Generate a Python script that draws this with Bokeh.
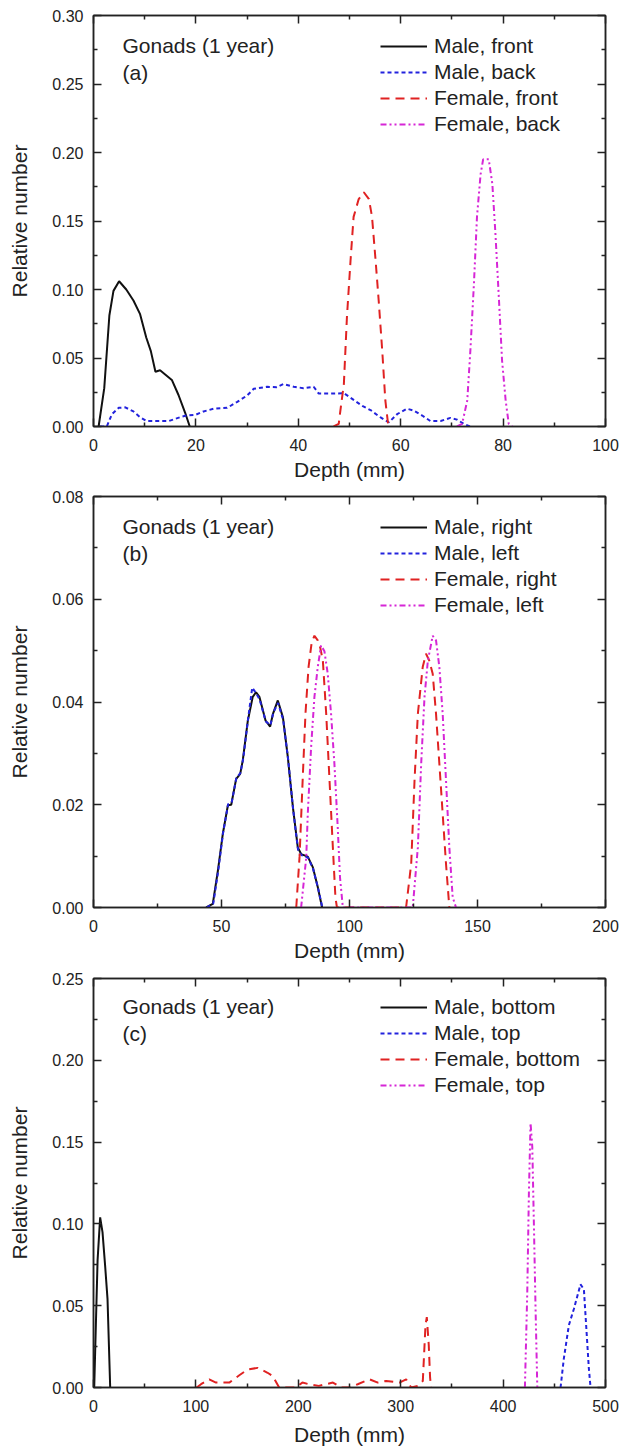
from bokeh.plotting import figure
from bokeh.layouts import column
from bokeh.models import (LinearAxis, Legend, LegendItem, Label, Range1d,
                          FixedTicker, PrintfTickFormatter, CustomLabelingPolicy)
from bokeh.embed import file_html
from bokeh.resources import INLINE

# ---------------- Panel (a): front / back ----------------
a_male_front_x = [1.0, 2.1, 3.1, 3.9, 5.0, 6.4, 7.8, 9.1, 10.3, 11.2, 12.1, 13.0, 14.0, 15.3, 16.6, 17.9, 18.8]
a_male_front_y = [0.0, 0.028, 0.081, 0.099, 0.106, 0.100, 0.092, 0.082, 0.065, 0.055, 0.040, 0.041, 0.038, 0.034, 0.023, 0.010, 0.0]
a_male_back_x = [1.3, 2.6, 3.6, 4.9, 6.2, 7.8, 9.1, 10.4, 12.4, 14.7, 16.0, 17.3, 18.2, 19.9, 21.5, 23.5, 26.1, 28.0, 30.0, 31.3,
                 33.9, 35.8, 37.1, 39.1, 41.0, 43.0, 44.0, 46.3, 48.9, 50.2, 52.5, 54.1, 56.0, 57.7, 59.3, 61.2, 62.5, 64.2, 65.8, 67.8,
                 69.7, 71.0, 72.3, 73.6]
a_male_back_y = [0.0, 0.0, 0.009, 0.0136, 0.014, 0.011, 0.0068, 0.004, 0.004, 0.004, 0.0056, 0.0073, 0.008, 0.0085, 0.011, 0.013, 0.0136, 0.0178, 0.0226, 0.0275,
                 0.029, 0.0287, 0.031, 0.029, 0.028, 0.029, 0.024, 0.024, 0.0243, 0.021, 0.015, 0.012, 0.0068, 0.003, 0.009, 0.013, 0.0117, 0.008, 0.004, 0.004,
                 0.0063, 0.005, 0.002, 0.0]
a_female_front_x = [46.9, 47.9, 48.3, 48.9, 49.5, 50.2, 50.8, 51.8, 52.8, 53.8, 54.4, 55.1, 55.7, 56.4, 57.0, 57.5, 58.0]
a_female_front_y = [0.0, 0.002, 0.014, 0.031, 0.080, 0.121, 0.153, 0.166, 0.171, 0.166, 0.153, 0.121, 0.092, 0.055, 0.019, 0.003, 0.0]
a_female_back_x = [71.0, 72.0, 73.0, 73.6, 74.3, 74.9, 75.6, 76.1, 77.2, 77.9, 78.5, 79.2, 79.8, 80.5, 81.1, 81.8]
a_female_back_y = [0.0, 0.002, 0.019, 0.055, 0.104, 0.153, 0.184, 0.195, 0.195, 0.177, 0.141, 0.092, 0.048, 0.019, 0.002, 0.0]
a_labels = ["Male, front", "Male, back", "Female, front", "Female, back"]
a_xticks = [0, 20, 40, 60, 80, 100]
a_xminor = [10, 30, 50, 70, 90]
a_yticks = [0.0, 0.05, 0.10, 0.15, 0.20, 0.25, 0.30]
a_yminor = [0.025, 0.075, 0.125, 0.175, 0.225, 0.275]

# ---------------- Panel (b): right / left ----------------
b_male_right_x = [44.0, 46.6, 48.6, 50.5, 52.5, 53.8, 55.7, 57.3, 58.3, 60.3, 62.2, 63.5, 64.8, 67.2, 69.0, 70.1, 72.0, 74.0, 75.9, 77.9,
                  79.8, 81.1, 83.7, 85.7, 87.6, 89.3]
b_male_right_y = [0.0, 0.0007, 0.0072, 0.0143, 0.0199, 0.020, 0.025, 0.026, 0.0286, 0.0364, 0.041, 0.0419, 0.041, 0.0364, 0.0352, 0.0377, 0.0403, 0.037, 0.0293, 0.0195,
                  0.0117, 0.0104, 0.0099, 0.0078, 0.004, 0.0]
b_male_left_x = [44.2, 46.8, 48.8, 50.6, 52.6, 54.0, 55.8, 57.4, 58.5, 60.4, 62.0, 63.4, 64.9, 67.3, 69.1, 70.3, 72.1, 74.1, 76.0, 78.0,
                 79.9, 81.2, 83.8, 85.8, 87.7, 89.4]
b_male_left_y = [0.0, 0.0008, 0.0074, 0.0145, 0.0201, 0.0205, 0.0252, 0.0262, 0.029, 0.0368, 0.0428, 0.0418, 0.0405, 0.0362, 0.0355, 0.038, 0.0398, 0.0365, 0.029, 0.019,
                 0.0112, 0.0102, 0.0097, 0.0075, 0.0038, 0.0]
b_female_right_x = [79.2, 80.5, 81.8, 82.8, 84.0, 85.2, 86.3, 87.6, 88.6, 89.6, 90.9, 92.2, 93.5, 94.5, 95.1,
                    122.1, 124.1, 125.4, 126.7, 128.6, 129.9, 131.2, 132.5, 133.8, 135.1, 136.4, 137.7, 139.0]
b_female_right_y = [0.0, 0.0100, 0.026, 0.0377, 0.0468, 0.0515, 0.0529, 0.052, 0.0505, 0.048, 0.0377, 0.0247, 0.0117, 0.002, 0.0,
                    0.0, 0.0085, 0.0247, 0.0377, 0.0468, 0.0494, 0.048, 0.0455, 0.0377, 0.028, 0.0182, 0.0085, 0.0]
b_female_left_x = [81.1, 83.1, 83.7, 85.0, 86.3, 87.6, 88.9, 90.2, 91.5, 92.8, 94.1, 95.4, 96.3, 97.4,
                   124.7, 126.7, 128.0, 129.3, 130.6, 132.5, 133.8, 135.1, 136.4, 137.7, 139.0, 140.3, 141.6]
b_female_left_y = [0.0, 0.0097, 0.0182, 0.0312, 0.041, 0.0468, 0.051, 0.0499, 0.0455, 0.0377, 0.028, 0.0156, 0.0058, 0.0,
                   0.0, 0.0117, 0.028, 0.041, 0.048, 0.0529, 0.052, 0.0468, 0.0377, 0.0247, 0.0117, 0.002, 0.0]
b_labels = ["Male, right", "Male, left", "Female, right", "Female, left"]
b_xticks = [0, 50, 100, 150, 200]
b_xminor = [25, 75, 125, 175]
b_yticks = [0.0, 0.02, 0.04, 0.06, 0.08]
b_yminor = [0.01, 0.03, 0.05, 0.07]

# ---------------- Panel (c): bottom / top ----------------
c_male_bottom_x = [0.7, 2.3, 4.0, 6.5, 8.8, 11.4, 13.7, 16.3]
c_male_bottom_y = [0.0, 0.038, 0.078, 0.104, 0.095, 0.074, 0.054, 0.0]
c_male_top_x = [456.1, 459.3, 464.2, 469.1, 475.6, 478.9, 481.1, 483.7, 485.4]
c_male_top_y = [0.0, 0.0176, 0.038, 0.048, 0.063, 0.060, 0.038, 0.012, 0.0]
c_female_bottom_x = [100.7, 105.0, 113.0, 119.6, 132.6, 142.4, 150.5, 160.3, 170.0, 175.0, 181.3, 197.5, 204.0, 210.5, 220.0, 233.8,
                     242.0, 250.0, 258.0, 269.5, 277.6, 285.8, 298.8, 305.3, 310.2, 316.7, 321.6, 324.2, 325.5, 327.4, 328.7, 329.7]
c_female_bottom_y = [0.0, 0.002, 0.005, 0.003, 0.003, 0.0075, 0.011, 0.012, 0.009, 0.007, 0.0, 0.0, 0.003, 0.002, 0.001, 0.003,
                     0.0, 0.0, 0.002, 0.005, 0.003, 0.004, 0.003, 0.005, 0.0, 0.001, 0.004, 0.038, 0.043, 0.026, 0.006, 0.0]
c_female_top_x = [421.3, 423.6, 425.2, 426.8, 428.5, 430.1, 431.7, 433.4]
c_female_top_y = [0.0, 0.058, 0.119, 0.1616, 0.147, 0.099, 0.048, 0.0]
c_labels = ["Male, bottom", "Male, top", "Female, bottom", "Female, top"]
c_xticks = [0, 100, 200, 300, 400, 500]
c_xminor = [50, 150, 250, 350, 450]
c_yticks = [0.0, 0.05, 0.10, 0.15, 0.20, 0.25]
c_yminor = [0.025, 0.075, 0.125, 0.175, 0.225]

FONT = "Liberation Sans"
COLORS = ["#111111", "#2222dd", "#e02222", "#d626d6"]
DASHES = ["solid", "4 3", "9 6", "6 3 2 3 2 3"]
FRAME_H = 411

NO_LABELS = """
for (let i = 0; i < indices.size; i++) { indices.set(i, false) }
return indices
"""


def style_axis(ax, ticks, minor, fmt, show_labels):
    ax.ticker = FixedTicker(ticks=ticks, minor_ticks=minor)
    ax.formatter = PrintfTickFormatter(format=fmt)
    ax.major_tick_in = 8
    ax.major_tick_out = 0
    ax.minor_tick_in = 4
    ax.minor_tick_out = 0
    ax.axis_line_color = "#222222"
    ax.axis_line_width = 1.5
    ax.major_tick_line_color = "#222222"
    ax.major_tick_line_width = 1.5
    ax.minor_tick_line_color = "#222222"
    ax.minor_tick_line_width = 1.5
    if show_labels:
        ax.major_label_text_font = FONT
        ax.major_label_text_font_size = "16px"
        ax.major_label_text_color = "#222222"
        ax.axis_label_text_font = FONT
        ax.axis_label_text_font_size = "21px"
        ax.axis_label_text_font_style = "normal"
        ax.axis_label_text_color = "#222222"
    else:
        # mirrored axis: ticks only, labels filtered out and not sized
        ax.major_label_policy = CustomLabelingPolicy(code=NO_LABELS)
        ax.major_label_text_font_size = "1px"
        ax.major_label_standoff = 0


def make_panel(xmax, ymax, series, labels, tag, xt, xm, yt, ym,
               height, top, bottom, xlabel_standoff):
    p = figure(width=624, height=height, output_backend="svg", toolbar_location=None,
               x_range=Range1d(0, xmax), y_range=Range1d(0, ymax),
               min_border_left=93, min_border_right=19,
               min_border_top=top, min_border_bottom=bottom,
               x_axis_label="Depth (mm)", y_axis_label="Relative number")
    p.grid.visible = False
    p.outline_line_color = "#222222"
    p.outline_line_width = 1.5
    p.background_fill_color = "white"
    p.border_fill_color = "white"

    style_axis(p.xaxis[0], xt, xm, "%d", True)
    style_axis(p.yaxis[0], yt, ym, "%.2f", True)
    p.xaxis[0].major_label_standoff = 12
    p.xaxis[0].axis_label_standoff = xlabel_standoff
    p.yaxis[0].major_label_standoff = 10
    p.yaxis[0].axis_label_standoff = 18

    top_ax = LinearAxis()
    style_axis(top_ax, xt, xm, "%d", False)
    p.add_layout(top_ax, "above")
    right_ax = LinearAxis()
    style_axis(right_ax, yt, ym, "%.2f", False)
    p.add_layout(right_ax, "right")

    items = []
    for (xs, ys), lab, col, dash in zip(series, labels, COLORS, DASHES):
        r = p.line(xs, ys, line_color=col, line_width=2, line_dash=dash)
        items.append(LegendItem(label=lab, renderers=[r]))

    leg = Legend(items=items, location=(287, 289),
                 label_text_font=FONT, label_text_font_size="21px",
                 label_text_color="#222222",
                 glyph_width=47, glyph_height=26, label_height=26,
                 label_standoff=7, spacing=0, padding=0, margin=0,
                 border_line_alpha=0, background_fill_alpha=0)
    p.add_layout(leg)

    p.add_layout(Label(x=29, y=FRAME_H - 30, x_units="screen", y_units="screen",
                       text="Gonads (1 year)", text_font=FONT, text_font_size="21px",
                       text_color="#222222", text_baseline="middle"))
    p.add_layout(Label(x=29, y=FRAME_H - 57, x_units="screen", y_units="screen",
                       text=tag, text_font=FONT, text_font_size="21px",
                       text_color="#222222", text_baseline="middle"))
    return p


pa = make_panel(100, 0.30,
                [(a_male_front_x, a_male_front_y), (a_male_back_x, a_male_back_y),
                 (a_female_front_x, a_female_front_y), (a_female_back_x, a_female_back_y)],
                a_labels, "(a)", a_xticks, a_xminor, a_yticks, a_yminor, 488, 15, 62, 4)
pb = make_panel(200, 0.08,
                [(b_male_right_x, b_male_right_y), (b_male_left_x, b_male_left_y),
                 (b_female_right_x, b_female_right_y), (b_female_left_x, b_female_left_y)],
                b_labels, "(b)", b_xticks, b_xminor, b_yticks, b_yminor, 480, 8, 61, 4)
pc = make_panel(500, 0.25,
                [(c_male_bottom_x, c_male_bottom_y), (c_male_top_x, c_male_top_y),
                 (c_female_bottom_x, c_female_bottom_y), (c_female_top_x, c_female_top_y)],
                c_labels, "(c)", c_xticks, c_xminor, c_yticks, c_yminor, 480, 10, 59, 8)

layout = column(pa, pb, pc, spacing=0)
open("out.html", "w").write(file_html(layout, INLINE))
